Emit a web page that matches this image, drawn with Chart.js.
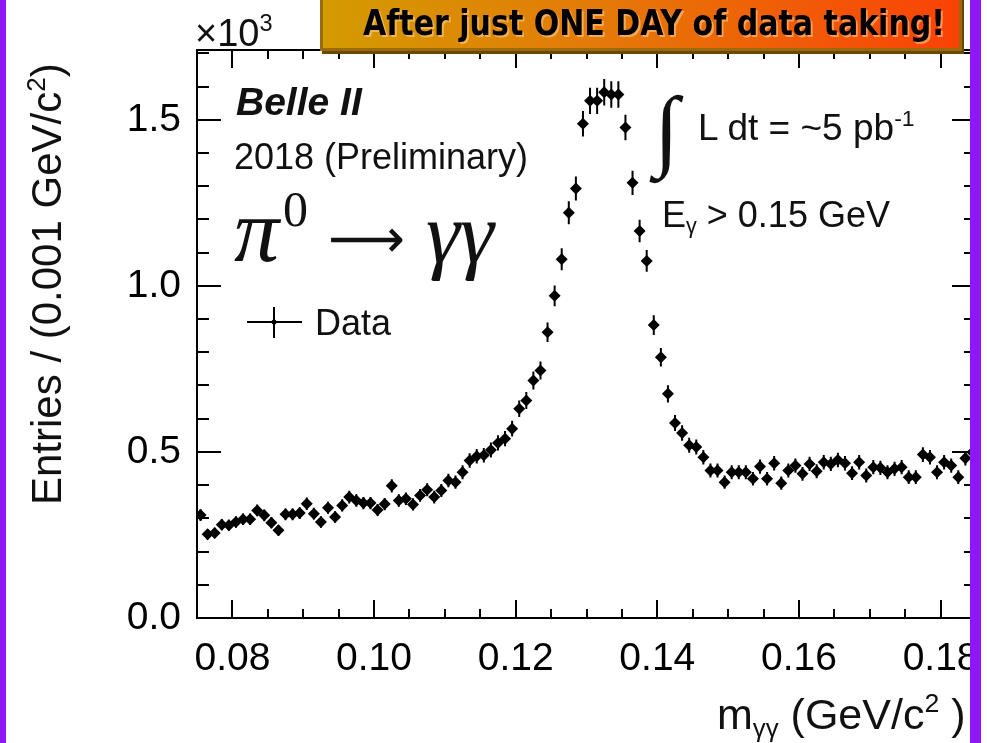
<!DOCTYPE html>
<html>
<head>
<meta charset="utf-8">
<title>pi0 to gamma gamma</title>
<script src="https://cdn.jsdelivr.net/npm/chart.js@4.4.1/dist/chart.umd.min.js"></script>
<style>
  html, body { margin: 0; padding: 0; background: #fff; }
  #wrap { position: relative; width: 987px; height: 743px; overflow: hidden;
          font-family: "Liberation Sans", Arial, sans-serif; color: #111; }
  #plot { position: absolute; left: 0; top: 0; }
  .txt { position: absolute; white-space: nowrap; line-height: 1; }
  .sup { position: relative; font-size: 0.62em; top: -0.62em; }
  .sub { position: relative; font-size: 0.6em; top: 0.3em; }
  .serif { font-family: "Liberation Serif", serif; }
  .edge { position: absolute; top: 0; height: 743px; background: #8f16f6; }
  #banner { position: absolute; left: 320px; top: -4px; width: 636px; height: 52px;
            border: 3px solid #9a6a0c; border-top: none;
            background: linear-gradient(90deg, #d39b00 0%, #e57808 45%, #fb4206 100%);
            box-shadow: 2px 3px 0 #6c4808; }
  #banner span { position: absolute; left: 40px; top: 10px; white-space: nowrap; line-height: 1;
                 font-family: "Liberation Sans Narrow", "DejaVu Sans", sans-serif; font-stretch: condensed;
                 font-weight: bold; font-size: 35px; color: #000; transform-origin: 0 0;
                 text-shadow: 2px 2px 0 rgba(255, 214, 150, 0.55); }
</style>
</head>
<body>
<div id="wrap">
  <canvas id="plot" width="987" height="743"></canvas>

  <div class="txt" style="left:195px; top:14px; font-size:38px;">×10<span class="sup">3</span></div>

  <div class="txt" style="left:236px; top:82px; font-size:39px; font-weight:bold; font-style:italic;">Belle II</div>
  <div class="txt" style="left:234px; top:139px; font-size:36px;">2018 (Preliminary)</div>

  <div class="txt serif" style="left:234px; top:186px; font-size:90px; font-style:italic;">π</div>
  <div class="txt serif" style="left:283px; top:184px; font-size:50px;">0</div>
  <div class="txt" id="arrow" style="left:328px; top:212px; font-size:54px; font-family:'DejaVu Sans', sans-serif; transform-origin:0 0;">⟶</div>
  <div class="txt serif" style="left:426px; top:190px; font-size:86px; font-style:italic;">γγ</div>

  <div class="txt" style="left:315px; top:305px; font-size:36px;">Data</div>

  <div class="txt serif" style="left:654px; top:84px; font-size:90px;">∫</div>
  <div class="txt" style="left:698px; top:109px; font-size:37px;">L dt = ~5 pb<span class="sup">-1</span></div>
  <div class="txt" style="left:662px; top:197px; font-size:36px;">E<span class="sub">γ</span> &gt; 0.15 GeV</div>

  <div class="txt" style="left:26px; top:505px; font-size:42px; transform:rotate(-90deg); transform-origin:0 0;">Entries / (0.001 GeV/c<span class="sup">2</span>)</div>
  <div class="txt" style="left:717px; top:693px; font-size:43px;">m<span class="sub">γγ</span> (GeV/c<span class="sup">2</span> )</div>

  <div id="banner"><span id="bannerText">After just ONE DAY of data taking!</span></div>

  <div class="edge" style="left:0; width:6px;"></div>
  <div class="edge" style="left:970px; width:11px;"></div>
</div>

<script>
// histogram binning of the diphoton mass, GeV/c^2
const binLow = 0.075;
const binWidth = 0.001;

// entries per bin, in units of 10^3
const counts = [
  0.310, 0.252, 0.256, 0.281, 0.279, 0.289, 0.297, 0.297, 0.324, 0.309,
  0.287, 0.264, 0.312, 0.312, 0.316, 0.344, 0.314, 0.289, 0.332, 0.304,
  0.339, 0.364, 0.354, 0.346, 0.346, 0.325, 0.343, 0.398, 0.354, 0.359,
  0.342, 0.369, 0.386, 0.364, 0.384, 0.414, 0.409, 0.439, 0.474, 0.487,
  0.490, 0.506, 0.527, 0.540, 0.570, 0.630, 0.655, 0.715, 0.745, 0.860,
  0.970, 1.080, 1.220, 1.293, 1.488, 1.557, 1.557, 1.583, 1.576, 1.576,
  1.477, 1.310, 1.165, 1.075, 0.882, 0.785, 0.675, 0.587, 0.557, 0.520,
  0.515, 0.484, 0.444, 0.444, 0.409, 0.439, 0.439, 0.439, 0.419, 0.456,
  0.419, 0.466, 0.406, 0.444, 0.459, 0.434, 0.464, 0.442, 0.469, 0.464,
  0.476, 0.466, 0.436, 0.469, 0.429, 0.454, 0.452, 0.439, 0.449, 0.454,
  0.424, 0.424, 0.492, 0.484, 0.439, 0.469, 0.459, 0.424, 0.481, 0.499
];

const xRange = [0.075, 0.185];
const yRange = [0, 1.71];
const xTickValues = [0.08, 0.10, 0.12, 0.14, 0.16, 0.18];
const xMinorStep = 0.005;
const yTickValues = [0.0, 0.5, 1.0, 1.5];
const yMinorStep = 0.1;

// poisson error on a bin, counts are stored in thousands
function binError(v) {
  return Math.sqrt(v * 1000) / 1000;
}

const points = counts.map((v, i) => ({ x: binLow + binWidth * (i + 0.5), y: v }));

// ROOT-like frame: ticks on all four sides, pointing inward, plus error bars
const rootFrame = {
  id: "rootFrame",

  beforeDatasetsDraw(chart) {
    const { ctx, chartArea } = chart;
    const xs = chart.scales.x;
    const ys = chart.scales.y;
    ctx.save();
    ctx.beginPath();
    ctx.rect(chartArea.left, chartArea.top, chartArea.right - chartArea.left, chartArea.bottom - chartArea.top);
    ctx.clip();
    ctx.strokeStyle = "#000";
    ctx.lineWidth = 2;
    points.forEach((p) => {
      const err = binError(p.y);
      const px = xs.getPixelForValue(p.x);
      const x0 = xs.getPixelForValue(p.x - binWidth / 2);
      const x1 = xs.getPixelForValue(p.x + binWidth / 2);
      const py = ys.getPixelForValue(p.y);
      ctx.beginPath();
      ctx.moveTo(px, ys.getPixelForValue(p.y - err));
      ctx.lineTo(px, ys.getPixelForValue(p.y + err));
      ctx.moveTo(x0, py);
      ctx.lineTo(x1, py);
      ctx.stroke();
    });
    ctx.restore();
  },

  afterDraw(chart) {
    const { ctx, chartArea } = chart;
    const { left, right, top, bottom } = chartArea;
    const xs = chart.scales.x;
    const ys = chart.scales.y;
    ctx.save();
    ctx.strokeStyle = "#000";
    ctx.lineWidth = 2;

    ctx.beginPath();
    for (let v = xRange[0]; v <= xRange[1] + 1e-9; v += xMinorStep) {
      const major = xTickValues.some((t) => Math.abs(t - v) < 1e-6);
      const len = major ? 18 : 9;
      const px = Math.round(xs.getPixelForValue(v));
      ctx.moveTo(px, bottom);
      ctx.lineTo(px, bottom - len);
      ctx.moveTo(px, top);
      ctx.lineTo(px, top + len);
    }
    for (let v = yRange[0]; v <= yRange[1] + 1e-9; v += yMinorStep) {
      const major = yTickValues.some((t) => Math.abs(t - v) < 1e-6);
      const len = major ? 24 : 12;
      const py = Math.round(ys.getPixelForValue(v));
      ctx.moveTo(left, py);
      ctx.lineTo(left + len, py);
      ctx.moveTo(right, py);
      ctx.lineTo(right - len, py);
    }
    ctx.stroke();

    ctx.strokeRect(left, top, right - left, bottom - top);

    // legend entry: marker with its error cross
    ctx.beginPath();
    ctx.moveTo(247, 322);
    ctx.lineTo(302, 322);
    ctx.moveTo(274, 307);
    ctx.lineTo(274, 338);
    ctx.stroke();
    ctx.fillStyle = "#000";
    ctx.beginPath();
    ctx.arc(274, 322, 2.5, 0, Math.PI * 2);
    ctx.fill();
    ctx.restore();
  }
};

const tickFont = { family: "'Liberation Sans', Arial, sans-serif", size: 39 };

// keep the frame at fixed edges regardless of how far the end labels stick out
function noEdgePadding(s) {
  s.paddingLeft = 0;
  s.paddingRight = 0;
  s.paddingTop = 0;
  s.paddingBottom = 0;
}

new Chart(document.getElementById("plot"), {
  type: "scatter",
  data: {
    datasets: [{
      label: "Data",
      data: points,
      pointStyle: "rectRot",
      pointRadius: 6,
      pointBackgroundColor: "#000",
      pointBorderWidth: 0,
      showLine: false
    }]
  },
  options: {
    responsive: false,
    animation: false,
    events: [],
    layout: { padding: { top: 50, right: 11, left: 0, bottom: 0 } },
    plugins: { legend: { display: false }, tooltip: { enabled: false } },
    scales: {
      x: {
        type: "linear",
        min: xRange[0],
        max: xRange[1],
        grid: { display: false, drawTicks: false },
        border: { display: false },
        afterBuildTicks: (s) => { s.ticks = xTickValues.map((v) => ({ value: v })); },
        afterFit: (s) => { s.height = 125; noEdgePadding(s); },
        ticks: {
          callback: (v) => Number(v).toFixed(2),
          font: tickFont,
          color: "#000",
          padding: 18,
          maxRotation: 0,
          autoSkip: false
        }
      },
      y: {
        type: "linear",
        min: yRange[0],
        max: yRange[1],
        grid: { display: false, drawTicks: false },
        border: { display: false },
        afterBuildTicks: (s) => { s.ticks = yTickValues.map((v) => ({ value: v })); },
        afterFit: (s) => { s.width = 197; noEdgePadding(s); },
        ticks: {
          callback: (v) => Number(v).toFixed(1),
          font: tickFont,
          color: "#000",
          padding: 16
        }
      }
    }
  },
  plugins: [rootFrame]
});

// squeeze the banner caption to the width of the box
const bannerText = document.getElementById("bannerText");
const w = bannerText.getBoundingClientRect().width;
bannerText.style.transform = `scaleX(${582 / w})`;

// the reaction arrow spans from pi0 to the photon pair
const arrow = document.getElementById("arrow");
const aw = arrow.getBoundingClientRect().width;
arrow.style.transform = `scaleX(${77 / aw})`;
</script>
</body>
</html>
